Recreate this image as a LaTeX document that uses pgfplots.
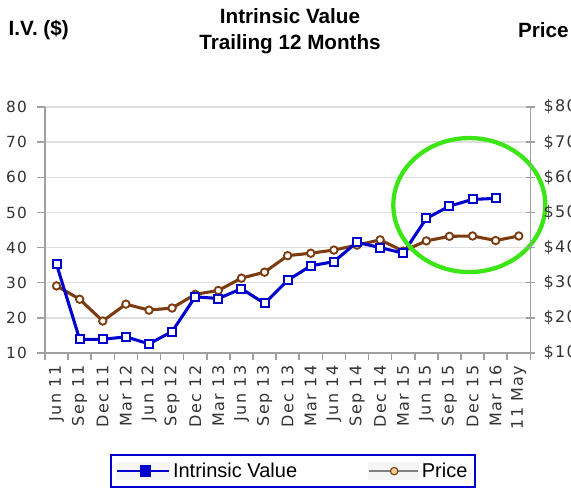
\documentclass[border=0pt]{standalone}
\usepackage{pgfplots}
\pgfplotsset{compat=1.18}
\usepackage{pgfplotstable}
\usepackage{fontspec}
\setmainfont{Liberation Sans}
\newfontfamily\tickfont[LetterSpace=8]{DejaVu Sans}
\definecolor{ivblue}{RGB}{0,0,204}
\definecolor{pbrown}{RGB}{125,60,15}
\definecolor{ellgreen}{RGB}{60,230,20}
\definecolor{gridgray}{RGB}{222,222,222}
\definecolor{axgray}{RGB}{160,160,160}
\definecolor{txtgray}{RGB}{50,50,50}
\definecolor{tan}{RGB}{245,200,150}

\pgfplotstableread{
idx iv price
0 35.2 29.1
1 13.9 25.3
2 13.9 19.1
3 14.6 23.9
4 12.6 22.2
5 16.1 22.8
6 26.0 26.7
7 25.5 27.8
8 28.3 31.3
9 24.1 33.0
10 30.7 37.7
11 34.8 38.4
12 36.0 39.3
13 41.5 40.7
14 40.0 42.2
15 38.4 39.0
16 48.3 41.9
17 51.8 43.2
18 53.7 43.3
19 54.0 42.0
20 nan 43.3
}\data

\begin{document}
\begin{tikzpicture}
\useasboundingbox (0,0) rectangle (428.25pt,365.25pt);
\clip (0,0) rectangle (428.25pt,365.25pt);

\begin{axis}[
  at={(33.75pt,100.5pt)}, anchor=south west,
  width=364pt, height=184.5pt, scale only axis,
  xmin=-0.5, xmax=20.5, ymin=10, ymax=80,
  axis y line*=left, axis x line*=bottom,
  axis line style={axgray, line width=1.2pt, -},
  clip=false,
  ytick={10,20,...,80},
  ymajorgrids, grid style={gridgray, line width=1.1pt},
  xtick={0,...,20},
  xticklabels={Jun 11,Sep 11,Dec 11,Mar 12,Jun 12,Sep 12,Dec 12,Mar 13,Jun 13,Sep 13,Dec 13,Mar 14,Jun 14,Sep 14,Dec 14,Mar 15,Jun 15,Sep 15,Dec 15,Mar 16,11 May},
  major x tick style={draw=none},
  minor xtick={-0.5,0.5,...,20.5},
  minor tick length=5pt,
  major tick length=6pt,
  tick align=outside,
  tick style={axgray, line width=1.1pt},
  /pgf/number format/assume math mode=true,
  y tick label style={font=\tickfont\fontsize{11.5}{13}\selectfont, text=txtgray, xshift=-4pt},
  x tick label style={font=\tickfont\fontsize{12}{14}\selectfont, text=txtgray, rotate=90, anchor=east},
  legend style={at={(0.134,-0.41)}, anchor=north west, draw=ivblue, line width=1.5pt,
    font=\fontsize{15}{17}\selectfont, legend columns=2, inner xsep=4pt, inner ysep=4pt,
    /tikz/every even column/.append style={column sep=51pt}},
  legend cell align=left,
]
\addplot[pbrown, line width=2.3pt, mark=*, mark size=2.8pt,
  mark options={fill=white, draw=pbrown, line width=1.4pt, solid}, forget plot]
  table[x=idx, y=price]{\data};
\addplot[ivblue, line width=2.3pt, mark=square*, mark size=3pt,
  mark options={fill=white, draw=ivblue, line width=1.5pt, solid}, forget plot]
  table[x=idx, y=iv]{\data};
\draw[ellgreen, line width=3.2pt] (axis cs:17.86,52.1) ellipse [x radius=57pt, y radius=50.25pt];

\addlegendimage{legend image code/.code={
  \fill[gray!8] (0pt,-6pt) rectangle (39pt,6pt);
  \draw[ivblue, line width=1.5pt] (0pt,0pt) -- (39pt,0pt);
  \fill[ivblue] (17.5pt,-3.5pt) rectangle (24.5pt,3.5pt);
}}
\addlegendentry{Intrinsic Value}
\addlegendimage{legend image code/.code={
  \fill[gray!8] (0pt,-6pt) rectangle (37pt,6pt);
  \draw[gray, line width=1.2pt] (0pt,0pt) -- (37pt,0pt);
  \filldraw[fill=tan, draw=pbrown, line width=0.8pt] (19pt,0pt) circle (2.8pt);
}}
\addlegendentry{Price}
\end{axis}

\begin{axis}[
  at={(33.75pt,100.5pt)}, anchor=south west,
  width=364pt, height=184.5pt, scale only axis,
  xmin=-0.5, xmax=20.5, ymin=10, ymax=80,
  axis y line*=right, axis x line=none,
  axis line style={axgray, line width=1.2pt, -},
  ytick={10,20,...,80},
  major tick length=7pt,
  tick align=center,
  tick style={axgray, line width=1.1pt},
  /pgf/number format/assume math mode=true,
  yticklabel={\$\pgfmathprintnumber{\tick}},
  y tick label style={font=\tickfont\fontsize{12}{14}\selectfont, text=txtgray, xshift=3pt},
]
\addplot[draw=none] coordinates {(0,10)};
\end{axis}

\node[font=\bfseries\fontsize{15.5}{19.5}\selectfont, align=center] at (217.5pt,341.5pt) {Intrinsic Value\\Trailing 12 Months};
\node[font=\bfseries\fontsize{15.5}{18}\selectfont] at (29pt,342.75pt) {I.V. (\$)};
\node[font=\bfseries\fontsize{15.5}{18}\selectfont] at (407.5pt,342.75pt) {Price};
\end{tikzpicture}
\end{document}
